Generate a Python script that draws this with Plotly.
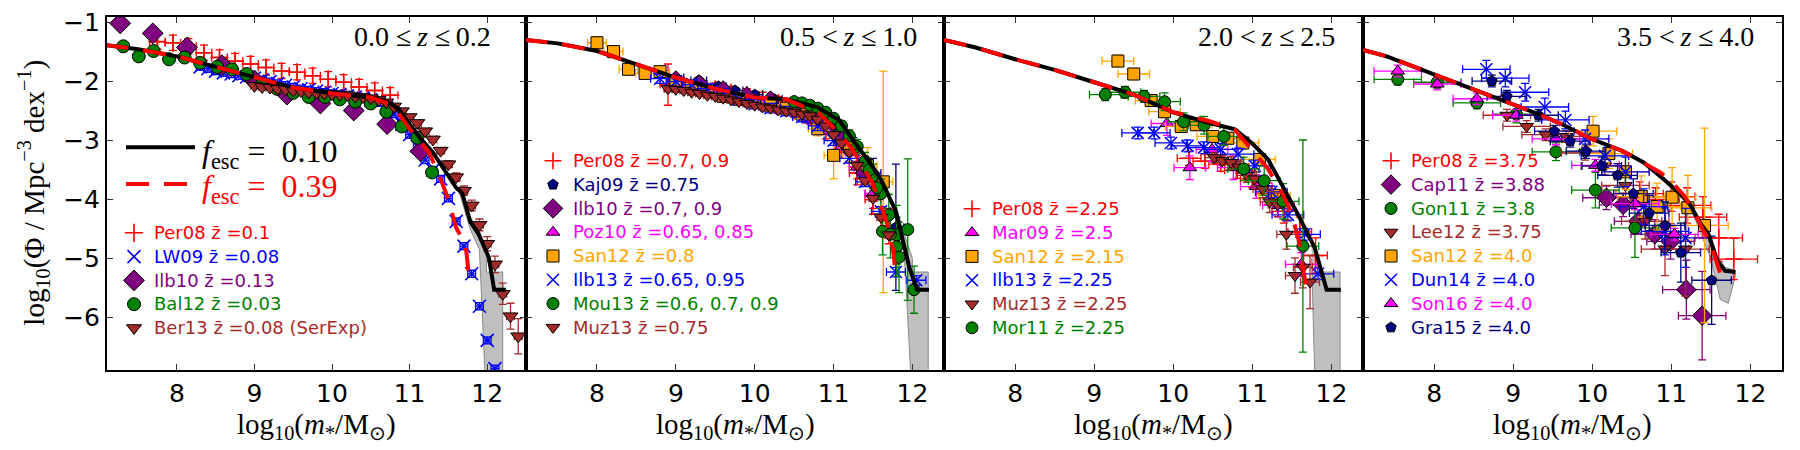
import plotly.graph_objects as go

W, H = 1800, 450

RED = '#ff0000'; BLUE = '#0000ff'; PURPLE = '#800080'; GREEN = '#008000'
BROWN = '#a52a2a'; NAVY = '#000080'; MAGENTA = '#ff00ff'; ORANGE = '#ffa500'

# ---------------- data: panel 1 (0.0 <= z <= 0.2) ----------------
p1_per08_x = [7.75, 7.95, 8.15, 8.35, 8.55, 8.75, 8.95, 9.15, 9.35, 9.55, 9.75, 9.95, 10.15, 10.35, 10.55, 10.75]
p1_per08_y = [-1.32, -1.34, -1.40, -1.51, -1.59, -1.65, -1.70, -1.76, -1.82, -1.84, -1.90, -1.96, -2.01, -2.09, -2.15, -2.23]
p1_lw09_x = [8.3, 8.4, 8.5, 8.6, 8.7, 8.8, 8.9, 9.0, 9.1, 9.2, 9.3, 9.4, 9.5, 9.6, 9.7, 9.8, 9.9, 10.0, 10.1,
             10.2, 10.3, 10.4, 10.5, 10.6, 10.7, 10.8, 10.9, 11.0, 11.1, 11.2, 11.3, 11.4, 11.5, 11.6, 11.7, 11.8,
             11.9, 12.0, 12.1]
p1_lw09_y = [-1.75, -1.78, -1.82, -1.85, -1.87, -1.90, -1.92, -1.94, -1.97, -2.00, -2.03, -2.06, -2.09, -2.12,
             -2.14, -2.16, -2.18, -2.20, -2.22, -2.24, -2.26, -2.28, -2.31, -2.36, -2.44, -2.55, -2.72, -2.90,
             -3.10, -3.33, -3.50, -3.65, -3.98, -4.37, -4.79, -5.26, -5.81, -6.39, -6.87]
p1_ilb10_x = [7.27, 7.69, 8.13, 8.58, 9.0, 9.42, 9.85, 10.28, 10.71, 11.14]
p1_ilb10_y = [-1.01, -1.18, -1.42, -1.72, -1.98, -2.22, -2.37, -2.49, -2.72, -3.18]
p1_bal12_x = [7.31, 7.51, 7.70, 7.90, 8.10, 8.30, 8.52, 8.71, 8.90, 9.10, 9.29, 9.50, 9.70, 9.91, 10.10, 10.30,
              10.50, 10.70, 10.90, 11.10, 11.29]
p1_bal12_y = [-1.40, -1.57, -1.48, -1.62, -1.59, -1.68, -1.75, -1.79, -1.87, -2.04, -2.12, -2.19, -2.26, -2.26,
              -2.30, -2.34, -2.37, -2.51, -2.76, -2.95, -3.54]
p1_ber13_x = [9.0, 9.1, 9.2, 9.3, 9.4, 9.5, 9.6, 9.7, 9.8, 9.9, 10.0, 10.1, 10.2, 10.3, 10.4, 10.5, 10.6, 10.7,
              10.8, 10.9, 11.0, 11.1, 11.2, 11.3, 11.4, 11.5, 11.6, 11.7, 11.8, 11.9, 12.0, 12.1, 12.2, 12.3, 12.4]
p1_ber13_y = [-2.07, -2.09, -2.10, -2.12, -2.13, -2.15, -2.16, -2.18, -2.19, -2.20, -2.21, -2.22, -2.23, -2.25,
              -2.26, -2.28, -2.31, -2.35, -2.42, -2.50, -2.60, -2.70, -2.84, -2.98, -3.17, -3.40, -3.62, -3.85,
              -4.10, -4.43, -4.75, -5.10, -5.60, -5.98, -6.32]
p1_ber13_ey = [0.03] * 22 + [0.04, 0.05, 0.05, 0.06, 0.07, 0.08, 0.09, 0.1, 0.12, 0.14, 0.18, 0.22, 0.3]

# model curves panel 1
p1_m10_x = [7.08, 7.5, 8.0, 8.5, 9.0, 9.5, 10.0, 10.5, 10.7, 10.85, 11.0, 11.15, 11.3, 11.45, 11.6, 11.68, 11.78,
            11.89, 12.02, 12.09, 12.24]
p1_m10_y = [-1.38, -1.45, -1.57, -1.75, -1.93, -2.10, -2.20, -2.27, -2.33, -2.45, -2.72, -2.98, -3.20, -3.50,
            -3.80, -3.90, -4.37, -4.59, -4.98, -5.53, -5.53]
p1_m39_x = [7.08, 7.5, 8.0, 8.5, 9.0, 9.5, 10.0, 10.5, 10.7, 10.86, 11.0, 11.25, 11.4, 11.5, 11.6, 11.72, 11.76]
p1_m39_y = [-1.38, -1.45, -1.57, -1.75, -1.93, -2.10, -2.20, -2.27, -2.36, -2.54, -2.80, -3.20, -3.65, -4.00,
            -4.48, -4.76, -5.23]
p1_band_x = [11.65, 11.78, 11.89, 11.99, 11.99, 12.2, 12.2, 11.99, 11.9, 11.78, 11.65]
p1_band_y = [-3.85, -4.30, -4.50, -4.85, -5.23, -5.23, -7.5, -7.5, -4.85, -4.50, -3.92]

# ---------------- data: panel 2 (0.5 < z <= 1.0) ----------------
p2_per08_x = [8.9, 9.1, 9.3, 9.5, 9.7, 9.9, 10.1, 10.3, 10.5, 10.7, 10.9, 11.1, 11.3, 11.5, 11.7,
              9.3, 9.5, 9.7, 9.9, 10.1, 10.3, 10.5, 10.7, 10.9, 11.1, 11.3, 11.5]
p2_per08_y = [-2.05, -2.05, -2.08, -2.12, -2.18, -2.22, -2.28, -2.35, -2.42, -2.55, -2.75, -3.05, -3.45, -3.90,
              -4.45, -2.15, -2.20, -2.25, -2.30, -2.36, -2.42, -2.50, -2.62, -2.85, -3.15, -3.55, -4.00]
p2_per08_ey = [0.35, 0.1, 0.1, 0.1, 0.1, 0.1, 0.1, 0.1, 0.1, 0.1, 0.12, 0.15, 0.2, 0.25, 0.3,
               0.1, 0.1, 0.1, 0.1, 0.1, 0.1, 0.1, 0.1, 0.12, 0.15, 0.2, 0.25]
p2_kaj09_x = [9.0, 9.29, 9.54, 9.75, 10.0, 10.25, 10.5, 10.75, 11.0, 11.25, 11.5, 11.79]
p2_kaj09_y = [-1.93, -1.98, -2.08, -2.15, -2.22, -2.30, -2.36, -2.50, -2.75, -3.10, -3.55, -4.47]
p2_kaj09_ey = [0.05, 0.05, 0.05, 0.05, 0.05, 0.05, 0.06, 0.07, 0.1, 0.15, 0.25, 1.07]
p2_ilb10_x = [9.0, 9.3, 9.6, 9.9, 10.2, 10.5, 10.8, 11.1, 11.4]
p2_ilb10_y = [-1.98, -2.05, -2.15, -2.25, -2.32, -2.40, -2.60, -3.00, -3.55]
p2_poz10_x = [9.2, 9.5, 9.8, 10.1, 10.4, 10.7, 10.85, 11.1, 11.3, 11.5]
p2_poz10_y = [-2.10, -2.20, -2.30, -2.38, -2.45, -2.65, -2.84, -3.10, -3.45, -3.90]
p2_san12_x = [8.0, 8.21, 8.40, 8.61, 8.80, 9.0, 9.2, 9.4, 9.6, 9.8, 10.0, 10.2, 10.4, 10.6, 10.8, 11.0, 11.2,
              11.43, 11.63]
p2_san12_y = [-1.34, -1.49, -1.79, -1.86, -1.83, -2.00, -2.10, -2.15, -2.25, -2.30, -2.35, -2.40, -2.45, -2.55,
              -2.80, -3.25, -3.10, -3.42, -3.70]
p2_san12_ey = [0.1, 0.1, 0.08, 0.08, 0.08, 0.08, 0.08, 0.08, 0.08, 0.08, 0.08, 0.08, 0.1, 0.1, 0.12, 0.4, 0.25,
               0.3, 1.88]
p2_ilb13_x = [8.8, 9.0, 9.2, 9.4, 9.6, 9.8, 10.0, 10.2, 10.4, 10.6, 10.8, 11.0, 11.2, 11.4, 11.6, 11.79, 12.05]
p2_ilb13_y = [-1.95, -2.00, -2.05, -2.12, -2.20, -2.30, -2.38, -2.45, -2.50, -2.60, -2.75, -3.00, -3.30, -3.70,
              -4.20, -5.23, -5.37]
p2_mou13_x = [10.5, 10.6, 10.7, 10.8, 10.9, 11.0, 11.1, 11.2, 11.3, 11.4, 11.5, 11.6, 11.7, 11.8, 11.94, 12.02,
              11.45, 11.55, 11.62, 11.72, 11.8, 11.83]
p2_mou13_y = [-2.34, -2.36, -2.40, -2.45, -2.52, -2.62, -2.75, -2.92, -3.10, -3.35, -3.60, -3.90, -4.26, -4.60,
              -4.51, -5.53, -3.50, -3.80, -4.54, -4.59, -4.80, -4.98]
p2_mou13_ey = [0.05, 0.05, 0.05, 0.05, 0.06, 0.07, 0.08, 0.1, 0.12, 0.15, 0.2, 0.25, 0.35, 0.5, 1.2, 0.4,
               0.15, 0.2, 0.4, 0.4, 0.5, 0.6]
p2_muz13_x = [8.9, 9.0, 9.1, 9.2, 9.3, 9.4, 9.5, 9.6, 9.7, 9.8, 9.9, 10.0, 10.1, 10.2, 10.3, 10.4, 10.5, 10.6,
              10.7, 10.8, 10.9, 11.0, 11.1, 11.2, 11.3, 11.4, 11.5, 11.6, 11.7]
p2_muz13_y = [-2.12, -2.13, -2.15, -2.18, -2.20, -2.23, -2.25, -2.28, -2.31, -2.34, -2.37, -2.40, -2.43, -2.45,
              -2.48, -2.50, -2.52, -2.55, -2.58, -2.64, -2.75, -2.90, -3.04, -3.20, -3.42, -3.68, -3.98, -4.30,
              -4.60]
p2_m10_x = [7.08, 7.5, 8.0, 8.5, 9.0, 9.5, 10.0, 10.4, 10.79, 11.07, 11.24, 11.49, 11.62, 11.79, 11.87, 11.96,
            12.06, 12.21]
p2_m10_y = [-1.29, -1.35, -1.48, -1.70, -1.93, -2.12, -2.27, -2.30, -2.43, -2.65, -2.98, -3.43, -3.71, -4.20,
            -4.65, -5.15, -5.53, -5.53]
p2_m39_x = [7.08, 7.5, 8.0, 8.5, 9.0, 9.5, 10.0, 10.4, 10.81, 11.07, 11.24, 11.49, 11.66, 11.75, 11.79]
p2_m39_y = [-1.29, -1.35, -1.48, -1.70, -1.93, -2.12, -2.27, -2.30, -2.53, -2.87, -3.15, -3.71, -4.32, -4.82,
            -5.26]
p2_band_x = [11.8, 11.9, 12.0, 12.0, 12.2, 12.2, 12.0, 11.9, 11.8]
p2_band_y = [-4.15, -4.60, -5.00, -5.23, -5.23, -7.5, -7.5, -5.00, -4.30]

# ---------------- data: panel 3 (2.0 < z <= 2.5) ----------------
p3_per08_x = [10.2, 10.4, 10.6, 10.8, 11.0, 11.2, 11.4, 11.6, 11.8]
p3_per08_y = [-3.30, -3.35, -3.40, -3.50, -3.65, -3.90, -4.20, -4.55, -4.95]
p3_per08_ey = [0.12, 0.12, 0.12, 0.14, 0.15, 0.18, 0.2, 0.25, 0.3]
p3_mar09_x = [9.92, 10.21, 10.49, 10.76, 11.05, 11.33, 11.62]
p3_mar09_y = [-2.71, -3.46, -3.15, -3.46, -3.78, -4.10, -5.10]
p3_san12_x = [9.30, 9.50, 9.72, 9.89, 10.10, 10.29, 10.50, 10.69, 10.88, 11.09, 11.28]
p3_san12_y = [-1.65, -1.87, -2.32, -2.51, -2.76, -2.73, -2.93, -2.96, -3.04, -3.32, -3.93]
p3_ilb13_x = [9.55, 9.76, 9.97, 10.18, 10.39, 10.60, 10.82, 11.03, 11.24, 11.45, 11.66, 11.83]
p3_ilb13_y = [-2.87, -2.87, -3.04, -3.09, -3.12, -3.15, -3.23, -3.43, -3.87, -4.26, -4.59, -5.26]
p3_muz13_x = [10.52, 10.62, 10.73, 10.83, 10.93, 11.03, 11.13, 11.22, 11.32, 11.43, 11.54, 11.64, 11.73]
p3_muz13_y = [-3.29, -3.34, -3.37, -3.45, -3.59, -3.65, -3.82, -4.04, -4.09, -4.59, -5.29, -5.15, -5.40]
p3_muz13_ey = [0.08, 0.08, 0.1, 0.1, 0.12, 0.12, 0.15, 0.18, 0.2, 0.25, 0.3, 0.35, 0.45]
p3_mor11_x = [9.14, 9.39, 9.63, 9.89, 10.13, 10.39, 10.64, 10.89, 11.15, 11.39, 11.64]
p3_mor11_y = [-2.22, -2.18, -2.25, -2.34, -2.68, -2.74, -2.93, -3.48, -3.68, -4.03, -4.79]
p3_mor11_ey = [0.1, 0.1, 0.1, 0.15, 0.15, 0.15, 0.15, 0.2, 0.25, 0.3, 1.8]
p3_m10_x = [7.1, 7.5, 8.0, 8.5, 9.0, 9.5, 10.0, 10.4, 10.78, 11.0, 11.2, 11.4, 11.58, 11.79, 11.87, 11.94, 12.12]
p3_m10_y = [-1.29, -1.42, -1.62, -1.80, -2.01, -2.22, -2.52, -2.68, -2.81, -3.05, -3.32, -3.80, -4.26, -4.82,
            -5.21, -5.53, -5.53]
p3_m39_x = [7.1, 7.5, 8.0, 8.5, 9.0, 9.5, 10.0, 10.18, 10.48, 10.78, 11.03, 11.2, 11.37, 11.49, 11.58, 11.68]
p3_m39_y = [-1.29, -1.42, -1.62, -1.80, -2.01, -2.22, -2.52, -2.57, -2.68, -2.82, -3.21, -3.48, -3.87, -4.21,
            -4.65, -5.48]
p3_band_x = [11.75, 11.8, 11.8, 12.11, 12.11, 11.8, 11.75]
p3_band_y = [-4.70, -4.85, -5.23, -5.23, -7.5, -7.5, -5.00]

# ---------------- data: panel 4 (3.5 < z <= 4.0) ----------------
p4_per08_x = [10.6, 10.8, 11.0, 11.2, 11.4, 11.6, 11.79]
p4_per08_y = [-3.90, -4.00, -3.95, -4.10, -4.30, -4.65, -5.01]
p4_per08_ey = [0.2, 0.2, 0.25, 0.3, 0.35, 0.4, 0.35]
p4_cap11_x = [10.18, 10.39, 10.58, 10.79, 10.99, 11.19, 11.39]
p4_cap11_y = [-3.97, -4.09, -4.37, -4.59, -4.71, -5.53, -5.97]
p4_cap11_ey = [0.2, 0.2, 0.2, 0.25, 0.3, 0.5, 0.75]
p4_gon11_x = [7.54, 8.04, 8.54, 9.04, 9.54, 10.04, 10.54]
p4_gon11_y = [-1.96, -2.01, -2.36, -2.55, -3.19, -3.84, -4.48]
p4_gon11_ey = [0.1, 0.1, 0.1, 0.15, 0.15, 0.3, 0.5]
p4_lee12_x = [8.92, 9.17, 9.41, 9.67, 9.91, 10.16, 10.42, 10.67, 10.92, 11.18]
p4_lee12_y = [-2.57, -2.76, -2.90, -2.93, -3.21, -3.43, -3.76, -4.37, -4.84, -4.84]
p4_lee12_ey = [0.1, 0.1, 0.1, 0.1, 0.12, 0.15, 0.2, 0.3, 0.45, 0.8]
p4_san12_x = [10.01, 10.21, 10.42, 10.62, 10.82, 11.01, 11.21, 11.42]
p4_san12_y = [-2.84, -3.22, -3.53, -3.95, -4.12, -3.96, -4.14, -4.44]
p4_san12_ey = [0.25, 0.25, 0.3, 0.35, 0.4, 0.5, 0.55, 1.65]
p4_dun14_x = [8.66, 8.90, 9.15, 9.40, 9.66, 9.91, 10.16, 10.42, 10.65, 10.92, 11.18]
p4_dun14_y = [-1.79, -1.94, -2.18, -2.43, -2.65, -2.97, -3.26, -3.53, -4.12, -4.54, -4.65]
p4_dun14_ey = [0.15, 0.15, 0.15, 0.15, 0.15, 0.15, 0.2, 0.25, 0.3, 0.4, 0.5]
p4_son16_x = [7.54, 8.04, 8.54, 9.04, 9.54, 10.04, 10.54, 11.04]
p4_son16_y = [-1.82, -2.04, -2.29, -2.57, -2.97, -3.42, -4.07, -4.59]
p4_gra15_x = [8.73, 8.92, 9.32, 9.52, 9.72, 9.92, 10.12, 10.32, 10.52, 10.72, 10.92, 11.12, 11.51]
p4_gra15_y = [-1.99, -2.25, -2.57, -2.84, -3.01, -3.18, -3.43, -3.59, -3.90, -4.23, -4.44, -4.90, -5.37]
p4_gra15_ey = [0.1, 0.1, 0.1, 0.1, 0.1, 0.12, 0.15, 0.2, 0.25, 0.3, 0.4, 0.5, 0.75]
p4_m10_x = [7.1, 7.4, 7.99, 8.62, 8.92, 9.3, 9.63, 9.97, 10.39, 10.65, 10.9, 11.11, 11.24, 11.35, 11.47, 11.58,
            11.68, 11.81]
p4_m10_y = [-1.46, -1.57, -1.87, -2.20, -2.34, -2.54, -2.73, -2.96, -3.18, -3.37, -3.65, -3.90, -4.09, -4.37,
            -4.59, -5.04, -5.21, -5.23]
p4_m39_x = [7.1, 7.4, 7.99, 8.62, 8.92, 9.3, 9.63, 9.97, 10.39, 10.65, 10.86, 10.99, 11.16, 11.28, 11.41, 11.49,
            11.58, 11.62]
p4_m39_y = [-1.46, -1.57, -1.87, -2.20, -2.34, -2.54, -2.73, -2.96, -3.18, -3.37, -3.54, -3.68, -3.93, -4.20,
            -4.54, -4.71, -5.10, -5.26]
p4_band_x = [11.2, 11.35, 11.47, 11.58, 11.68, 11.81, 11.81, 11.72, 11.62, 11.5, 11.35, 11.2]
p4_band_y = [-3.95, -4.30, -4.50, -4.95, -5.15, -5.20, -5.30, -5.76, -5.70, -5.00, -4.50, -4.00]

panel_titles = ['0.0 \u2264\u2009<i>z</i> \u2264\u20090.2', '0.5 <\u2009<i>z</i> \u2264\u20091.0',
                '2.0 <\u2009<i>z</i> \u2264\u20092.5', '3.5 <\u2009<i>z</i> \u2264\u20094.0']
fesc_values = ['0.10', '0.39']
x_ticks = [8, 9, 10, 11, 12]
y_ticks = [-1, -2, -3, -4, -5, -6]

# ---------------- figure ----------------
fig = go.Figure()
ZB = 'z\u0304'


def axnames(p):
    s = '' if p == 1 else str(p)
    return 'x' + s, 'y' + s


def err(v, color):
    d = dict(color=color, thickness=1.3, width=4, visible=True)
    if isinstance(v, (list, tuple)):
        d.update(type='data', array=list(v))
    else:
        d.update(type='constant', value=v)
    return d


def series(p, label, color, symbol, x, y, ex, ey, size=12):
    xa, ya = axnames(p)
    thin = symbol in ('cross-thin', 'x-thin')
    marker = dict(symbol=symbol, size=size, color=color,
                  line=dict(color=color if thin else 'black', width=1.6 if thin else 1))
    fig.add_trace(go.Scatter(
        x=x, y=y, mode='markers', xaxis=xa, yaxis=ya, marker=marker,
        error_x=err(ex, color), error_y=err(ey, color),
        name='<span style="color:%s;font-size:18px">%s</span>' % (color, label),
        legend='legend' if p == 1 else 'legend%d' % p, showlegend=True))


def band(p, x, y):
    xa, ya = axnames(p)
    fig.add_trace(go.Scatter(x=x, y=y, mode='lines', fill='toself', xaxis=xa, yaxis=ya,
                             fillcolor='rgba(170,170,170,0.75)', line=dict(color='#8a8a8a', width=1),
                             showlegend=False, hoverinfo='skip'))


for p, bx, by in [(1, p1_band_x, p1_band_y), (2, p2_band_x, p2_band_y),
                  (3, p3_band_x, p3_band_y), (4, p4_band_x, p4_band_y)]:
    band(p, bx, by)

# panel 1
series(1, 'Per08 %s =0.1' % ZB, RED, 'cross-thin', p1_per08_x, p1_per08_y, 0.1, 0.13, size=13)
series(1, 'LW09 %s =0.08' % ZB, BLUE, 'x-thin', p1_lw09_x, p1_lw09_y, 0.05, 0.06, size=13)
series(1, 'Ilb10 %s =0.13' % ZB, PURPLE, 'diamond', p1_ilb10_x, p1_ilb10_y, 0.05, 0.05, size=16)
series(1, 'Bal12 %s =0.03' % ZB, GREEN, 'circle', p1_bal12_x, p1_bal12_y, 0.05, 0.06, size=13)
series(1, 'Ber13 %s =0.08 (SerExp)' % ZB, BROWN, 'triangle-down', p1_ber13_x, p1_ber13_y, 0.05, p1_ber13_ey,
       size=13)

# panel 2
series(2, 'Per08 %s =0.7, 0.9' % ZB, RED, 'cross-thin', p2_per08_x, p2_per08_y, 0.1, p2_per08_ey)
series(2, 'Kaj09 %s =0.75' % ZB, NAVY, 'pentagon', p2_kaj09_x, p2_kaj09_y, 0.1, p2_kaj09_ey, size=11)
series(2, 'Ilb10 %s =0.7, 0.9' % ZB, PURPLE, 'diamond', p2_ilb10_x, p2_ilb10_y, 0.1, 0.06, size=15)
series(2, 'Poz10 %s =0.65, 0.85' % ZB, MAGENTA, 'triangle-up', p2_poz10_x, p2_poz10_y, 0.1, 0.06)
series(2, 'San12 %s =0.8' % ZB, ORANGE, 'square', p2_san12_x, p2_san12_y, 0.12, p2_san12_ey)
series(2, 'Ilb13 %s =0.65, 0.95' % ZB, BLUE, 'x-thin', p2_ilb13_x, p2_ilb13_y, 0.12, 0.08)
series(2, 'Mou13 %s =0.6, 0.7, 0.9' % ZB, GREEN, 'circle', p2_mou13_x, p2_mou13_y, 0.05, p2_mou13_ey)
series(2, 'Muz13 %s =0.75' % ZB, BROWN, 'triangle-down', p2_muz13_x, p2_muz13_y, 0.05, 0.05)

# panel 3
series(3, 'Per08 %s =2.25' % ZB, RED, 'cross-thin', p3_per08_x, p3_per08_y, 0.15, p3_per08_ey)
series(3, 'Mar09 %s =2.5' % ZB, MAGENTA, 'triangle-up', p3_mar09_x, p3_mar09_y, 0.2, 0.2)
series(3, 'San12 %s =2.15' % ZB, ORANGE, 'square', p3_san12_x, p3_san12_y, 0.2, 0.1)
series(3, 'Ilb13 %s =2.25' % ZB, BLUE, 'x-thin', p3_ilb13_x, p3_ilb13_y, 0.2, 0.1)
series(3, 'Muz13 %s =2.25' % ZB, BROWN, 'triangle-down', p3_muz13_x, p3_muz13_y, 0.12, p3_muz13_ey)
series(3, 'Mor11 %s =2.25' % ZB, GREEN, 'circle', p3_mor11_x, p3_mor11_y, 0.2, p3_mor11_ey)

# panel 4
series(4, 'Per08 %s =3.75' % ZB, RED, 'cross-thin', p4_per08_x, p4_per08_y, 0.3, p4_per08_ey)
series(4, 'Cap11 %s =3.88' % ZB, PURPLE, 'diamond', p4_cap11_x, p4_cap11_y, 0.3, p4_cap11_ey, size=15)
series(4, 'Gon11 %s =3.8' % ZB, GREEN, 'circle', p4_gon11_x, p4_gon11_y, 0.3, p4_gon11_ey)
series(4, 'Lee12 %s =3.75' % ZB, BROWN, 'triangle-down', p4_lee12_x, p4_lee12_y, 0.3, p4_lee12_ey)
series(4, 'San12 %s =4.0' % ZB, ORANGE, 'square', p4_san12_x, p4_san12_y, 0.3, p4_san12_ey)
series(4, 'Dun14 %s =4.0' % ZB, BLUE, 'x-thin', p4_dun14_x, p4_dun14_y, 0.3, p4_dun14_ey)
series(4, 'Son16 %s =4.0' % ZB, MAGENTA, 'triangle-up', p4_son16_x, p4_son16_y, 0.3, 0.1)
series(4, 'Gra15 %s =4.0' % ZB, NAVY, 'pentagon', p4_gra15_x, p4_gra15_y, 0.25, p4_gra15_ey, size=11)

# model lines (legend shows the line keys; the labels are drawn as annotations)
fesc_styles = [('black', 'solid'), (RED, '23px,15px')]
for p, curves in [(1, [(p1_m10_x, p1_m10_y), (p1_m39_x, p1_m39_y)]),
                  (2, [(p2_m10_x, p2_m10_y), (p2_m39_x, p2_m39_y)]),
                  (3, [(p3_m10_x, p3_m10_y), (p3_m39_x, p3_m39_y)]),
                  (4, [(p4_m10_x, p4_m10_y), (p4_m39_x, p4_m39_y)])]:
    xa, ya = axnames(p)
    for (cx, cy), (col, dash), val in zip(curves, fesc_styles, fesc_values):
        fig.add_trace(go.Scatter(
            x=cx, y=cy, mode='lines', xaxis=xa, yaxis=ya,
            line=dict(color=col, width=4, dash=dash),
            name='\u2009' * (1 if val == fesc_values[0] else 2),
            legend='legend5', showlegend=(p == 1)))

# axes
doms = [(107, 526), (526, 944), (944, 1363), (1363, 1782)]
layout_axes = {}
for i, (a, b) in enumerate(doms):
    p = i + 1
    s = '' if p == 1 else str(p)
    layout_axes['xaxis' + s] = dict(
        domain=[a / W, b / W], range=[7.1, 12.5 if p == 1 else 12.4], tickvals=x_ticks,
        ticks='inside', ticklen=6, tickwidth=1, tickcolor='#333', mirror='ticks',
        showline=True, linecolor='black', linewidth=2, showgrid=False, zeroline=False,
        tickfont=dict(family='DejaVu Sans', size=25, color='black'), anchor='y' + s)
    layout_axes['yaxis' + s] = dict(
        domain=[1 - 369 / H, 1 - 9 / H], range=[-6.9, -0.9], tickvals=y_ticks,
        ticks='inside', ticklen=6, tickwidth=1, tickcolor='#333', mirror='ticks',
        showline=True, linecolor='black', linewidth=2, showgrid=False, zeroline=False,
        showticklabels=(p == 1),
        tickfont=dict(family='DejaVu Sans', size=25, color='black'), anchor='x' + s)

serif = 'Liberation Serif'
annotations = []
title_right = [493, 919, 1337, 1756]
for i, (a, b) in enumerate(doms):
    annotations.append(dict(xref='paper', yref='paper', x=title_right[i] / W, y=1 - 29 / H,
                            xanchor='right', yanchor='middle', showarrow=False, text=panel_titles[i],
                            font=dict(family=serif, size=28, color='black')))
    annotations.append(dict(xref='paper', yref='paper', x=(a + b) / 2 / W, y=1 - 426 / H,
                            xanchor='center', yanchor='middle', showarrow=False,
                            text='log<sub>10</sub>(<i>m</i><sub>*</sub>/M<sub>\u2299</sub>)',
                            font=dict(family=serif, size=29, color='black')))
annotations.append(dict(xref='paper', yref='paper', x=33 / W, y=1 - 188 / H, xanchor='center',
                        yanchor='middle', showarrow=False, textangle=-90,
                        text='log<sub>10</sub>(\u03a6 / Mpc<sup>\u22123</sup> dex<sup>\u22121</sup>)',
                        font=dict(family=serif, size=29, color='black')))
for (col, _), val, yc in zip(fesc_styles, fesc_values, [148, 184]):
    annotations.append(dict(xref='paper', yref='paper', x=200 / W, y=1 - yc / H,
                            xanchor='left', yanchor='middle', showarrow=False,
                            text='<i>f</i><sub>esc</sub>\u00a0=\u00a0\u00a0%s' % val,
                            font=dict(family=serif, size=32, color=col)))

leg_common = dict(bgcolor='rgba(0,0,0,0)', borderwidth=0, xanchor='left', yanchor='bottom',
                  font=dict(family='DejaVu Sans', size=16), itemsizing='trace', traceorder='normal')
legend_x = [114, 533, 952, 1371]
leg_y = 1 - 343 / H
fig.update_layout(
    width=W, height=H, margin=dict(l=0, r=0, t=0, b=0),
    paper_bgcolor='white', plot_bgcolor='white',
    annotations=annotations,
    legend=dict(x=legend_x[0] / W, y=leg_y, **leg_common),
    legend2=dict(x=legend_x[1] / W, y=leg_y, **leg_common),
    legend3=dict(x=legend_x[2] / W, y=leg_y, **leg_common),
    legend4=dict(x=legend_x[3] / W, y=leg_y, **leg_common),
    legend5=dict(x=121 / W, y=1 - 118 / H, xanchor='left', yanchor='top', bgcolor='rgba(0,0,0,0)',
                 font=dict(family=serif, size=26), itemwidth=69, traceorder='normal'),
    **layout_axes)

fig.write_html('out.html')
